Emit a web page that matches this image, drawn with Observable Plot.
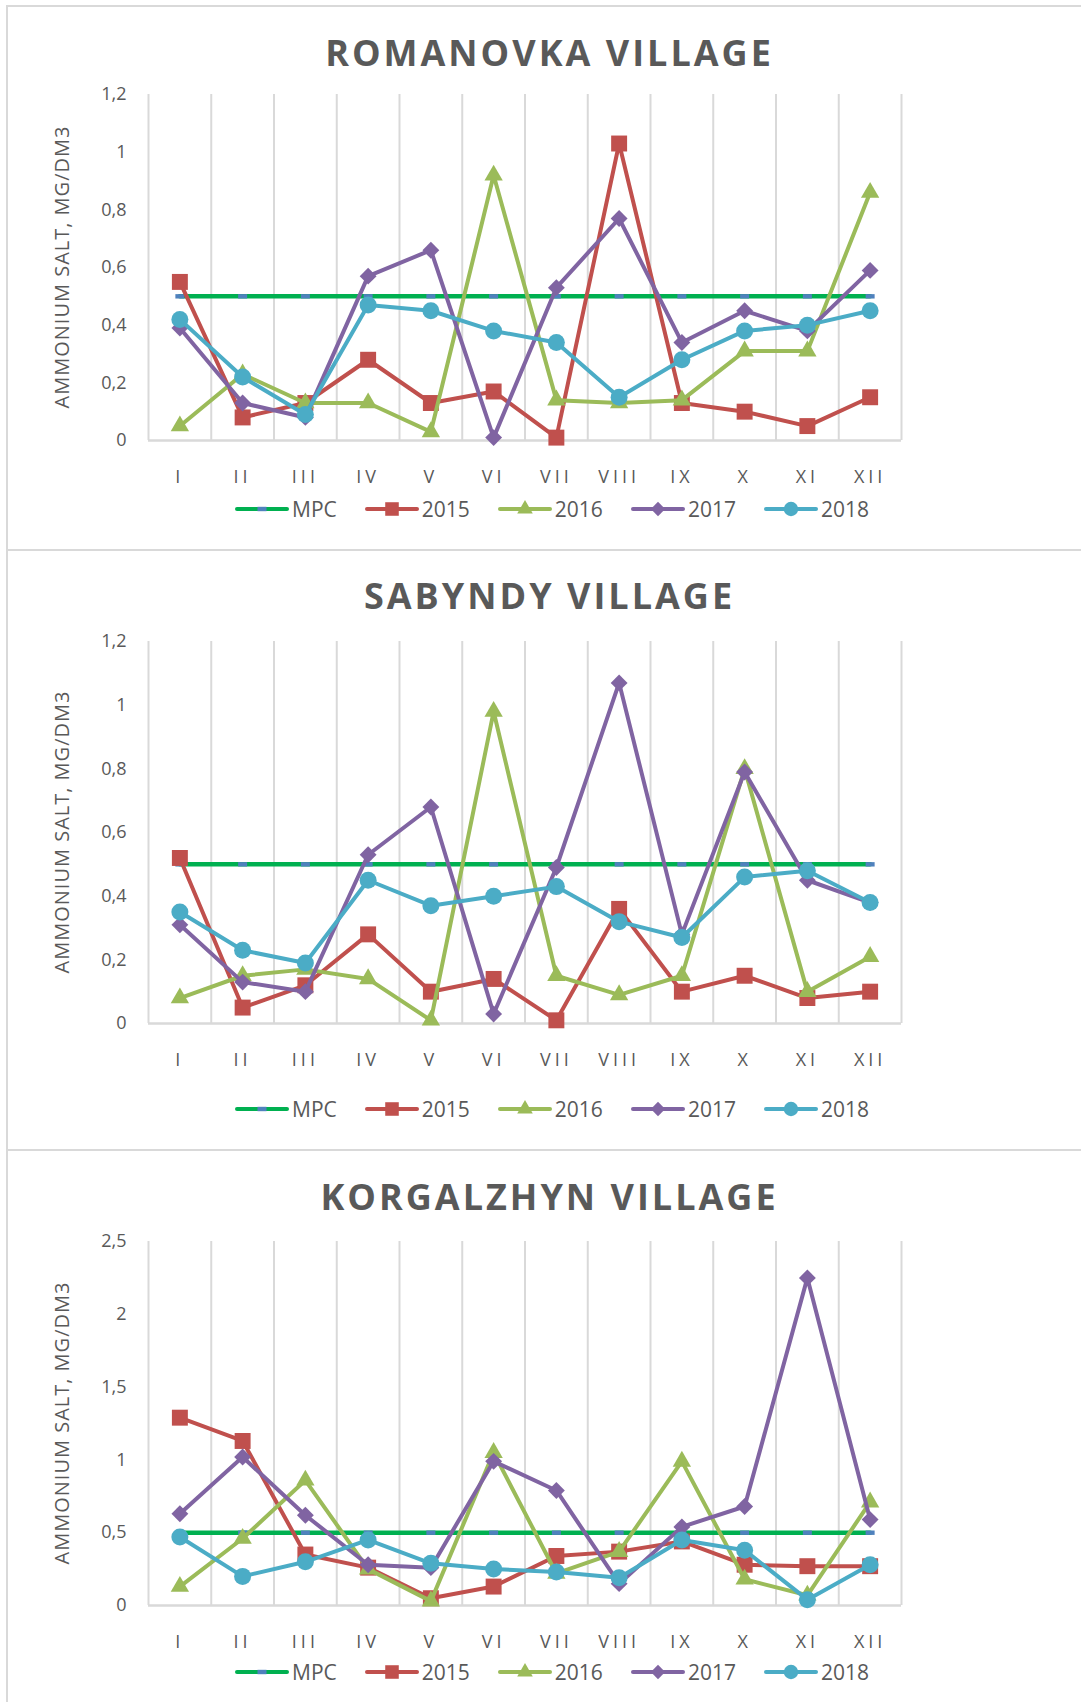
<!DOCTYPE html>
<html><head><meta charset="utf-8">
<script src="https://cdn.jsdelivr.net/npm/d3@7"></script>
<script src="https://cdn.jsdelivr.net/npm/@observablehq/plot@0.6"></script>
<style>
body{margin:0;background:#fff;}
#page{position:relative;width:1081px;height:1702px;overflow:hidden;background:#fff;font-family:'Open Sans',sans-serif;color:#595959}
.box{position:absolute;left:6px;width:1100px;border:2px solid #d9d9d9;box-sizing:border-box}
.title{position:absolute;left:0;width:1096px;text-align:center;font-weight:700;font-size:36px;letter-spacing:3px;padding-left:3px;box-sizing:border-box;line-height:40px;height:40px;white-space:nowrap;color:#595959}
.ylab{position:absolute;left:62px;white-space:nowrap;font-size:20px;letter-spacing:1px;line-height:24px;transform:translate(-50%,-50%) rotate(-90deg);color:#595959}
.legend{position:absolute;left:0;width:1104px;display:flex;justify-content:center;align-items:center;gap:28px;height:26px;font-size:21px;line-height:26px;color:#595959}
.legend .item{display:flex;align-items:center;gap:3px}
.plot{position:absolute;left:0}
.plot svg g[aria-label^="x-axis"] text{letter-spacing:4px}
</style></head>
<body><div id="page"></div>
<script>
// ---- categories & ticks ----
const months = ["I","II","III","IV","V","VI","VII","VIII","IX","X","XI","XII"];
const monthIndex = [1,2,3,4,5,6,7,8,9,10,11,12];
const ticksSmall = [0,0.2,0.4,0.6,0.8,1,1.2];
const ticksLarge = [0,0.5,1,1.5,2,2.5];
const seriesNames = ["MPC","2015","2016","2017","2018"];
const mpc = [0.5,0.5,0.5,0.5,0.5,0.5,0.5,0.5,0.5,0.5,0.5,0.5];

// ---- Romanovka ----
const romanovka2015 = [0.55,0.08,0.13,0.28,0.13,0.17,0.01,1.03,0.13,0.10,0.05,0.15];
const romanovka2016 = [0.05,0.23,0.13,0.13,0.03,0.92,0.14,0.13,0.14,0.31,0.31,0.86];
const romanovka2017 = [0.39,0.13,0.08,0.57,0.66,0.01,0.53,0.77,0.34,0.45,0.38,0.59];
const romanovka2018 = [0.42,0.22,0.09,0.47,0.45,0.38,0.34,0.15,0.28,0.38,0.40,0.45];

// ---- Sabyndy ----
const sabyndy2015 = [0.52,0.05,0.12,0.28,0.10,0.14,0.01,0.36,0.10,0.15,0.08,0.10];
const sabyndy2016 = [0.08,0.15,0.17,0.14,0.01,0.98,0.15,0.09,0.15,0.80,0.10,0.21];
const sabyndy2017 = [0.31,0.13,0.10,0.53,0.68,0.03,0.49,1.07,0.28,0.79,0.45,0.38];
const sabyndy2018 = [0.35,0.23,0.19,0.45,0.37,0.40,0.43,0.32,0.27,0.46,0.48,0.38];

// ---- Korgalzhyn ----
const korgalzhyn2015 = [1.29,1.13,0.35,0.26,0.05,0.13,0.34,0.37,0.44,0.28,0.27,0.27];
const korgalzhyn2016 = [0.13,0.46,0.86,0.25,0.03,1.05,0.22,0.37,0.99,0.18,0.07,0.71];
const korgalzhyn2017 = [0.63,1.02,0.62,0.28,0.26,0.99,0.79,0.15,0.54,0.68,2.25,0.59];
const korgalzhyn2018 = [0.47,0.20,0.30,0.45,0.29,0.25,0.23,0.19,0.45,0.38,0.04,0.28];

// ---- styles ----
const mpcStyle = {color:"#00b050", marker:"#4f81bd"};
const yearStyles = [
  {color:"#c0504d", symbol:"square", d3s:d3.symbolSquare, r:9},
  {color:"#9bbb59", symbol:"triangle", d3s:d3.symbolTriangle, r:6.8},
  {color:"#8064a2", symbol:"diamond2", d3s:d3.symbolDiamond2, r:7.6},
  {color:"#4bacc6", symbol:"circle", d3s:d3.symbolCircle, r:8.5}
];
const mpcSymbol = {draw(ctx){ ctx.moveTo(-4.5,-2.2); ctx.lineTo(4.5,-2.2); ctx.lineTo(4.5,2.2); ctx.lineTo(-4.5,2.2); ctx.closePath(); }};

const panels = [
  {title:"ROMANOVKA VILLAGE", boxTop:5, boxH:546, svgTop:5, frameTop:94, frameBottom:440, titleY:53, legendY:509, yMax:1.2, yTicks:ticksSmall,
   series:[romanovka2015,romanovka2016,romanovka2017,romanovka2018]},
  {title:"SABYNDY VILLAGE", boxTop:549, boxH:602, svgTop:549, frameTop:641, frameBottom:1023, titleY:596, legendY:1109, yMax:1.2, yTicks:ticksSmall,
   series:[sabyndy2015,sabyndy2016,sabyndy2017,sabyndy2018]},
  {title:"KORGALZHYN VILLAGE", boxTop:1149, boxH:600, svgTop:1149, frameTop:1241, frameBottom:1605, titleY:1197, legendY:1672, yMax:2.5, yTicks:ticksLarge,
   series:[korgalzhyn2015,korgalzhyn2016,korgalzhyn2017,korgalzhyn2018]}
];

const page = document.getElementById("page");
const fmt = d => String(d).replace(".", ",");
const gridBounds = monthIndex.map(i => i - 0.5).concat([monthIndex.length + 0.5]);

function legendSwatch(i) {
  const svg = d3.create("svg").attr("width",54).attr("height",20);
  if (i === 0) {
    svg.append("line").attr("x1",2).attr("x2",52).attr("y1",10).attr("y2",10).attr("stroke",mpcStyle.color).attr("stroke-width",4).attr("stroke-linecap","round");
    svg.append("rect").attr("x",22.5).attr("y",7.8).attr("width",9).attr("height",4.4).attr("fill",mpcStyle.marker);
  } else {
    const s = yearStyles[i-1];
    svg.append("line").attr("x1",2).attr("x2",52).attr("y1",10).attr("y2",10).attr("stroke",s.color).attr("stroke-width",4).attr("stroke-linecap","round");
    svg.append("path").attr("transform","translate(27,10)").attr("fill",s.color)
      .attr("d", d3.symbol(s.d3s, Math.PI*(s.r*0.85)*(s.r*0.85))());
  }
  return svg.node();
}

for (const p of panels) {
  const box = document.createElement("div");
  box.className = "box"; box.style.top = p.boxTop+"px"; box.style.height = p.boxH+"px";
  page.appendChild(box);

  const t = document.createElement("div");
  t.className = "title"; t.textContent = p.title; t.style.top = (p.titleY-20)+"px";
  page.appendChild(t);

  const yl = document.createElement("div");
  yl.className = "ylab"; yl.textContent = "AMMONIUM SALT, MG/DM3";
  yl.style.top = ((p.frameTop+p.frameBottom)/2)+"px";
  page.appendChild(yl);

  const mpcData = monthIndex.map((m,i) => ({x:m, v:mpc[i]}));
  const marks = [
    Plot.ruleX(gridBounds, {stroke:"#d9d9d9", strokeWidth:2}),
    Plot.ruleY([0], {stroke:"#d9d9d9", strokeWidth:2.5}),
    Plot.line(mpcData, {x:"x", y:"v", stroke:mpcStyle.color, strokeWidth:4.5}),
    Plot.dot(mpcData, {x:"x", y:"v", symbol:mpcSymbol, fill:mpcStyle.marker, r:3})
  ];
  p.series.forEach((arr, k) => {
    const s = yearStyles[k];
    const data = monthIndex.map((m,i) => ({x:m, v:arr[i]}));
    marks.push(Plot.line(data, {x:"x", y:"v", stroke:s.color, strokeWidth:4, strokeLinejoin:"round", strokeLinecap:"round"}));
    marks.push(Plot.dot(data, {x:"x", y:"v", symbol:s.symbol, fill:s.color, stroke:"none", r:s.r}));
  });

  const marginTop = p.frameTop - p.svgTop;
  const height = p.frameBottom - p.svgTop + 50;
  const chart = Plot.plot({
    width:1081, height, marginLeft:148, marginRight:180, marginTop, marginBottom:50,
    style:{fontFamily:"'Open Sans', sans-serif", fontSize:"18px", color:"#595959", background:"transparent", overflow:"visible"},
    x:{type:"linear", domain:[0.5, 12.5], ticks:monthIndex, tickFormat:i => months[i-1], tickSize:0, tickPadding:30, label:null},
    y:{domain:[0, p.yMax], ticks:p.yTicks, tickFormat:fmt, tickSize:0, tickPadding:22, label:null},
    marks
  });
  const wrap = document.createElement("div");
  wrap.className = "plot"; wrap.style.top = p.svgTop+"px";
  wrap.appendChild(chart);
  page.appendChild(wrap);

  const lg = document.createElement("div");
  lg.className = "legend"; lg.style.top = (p.legendY-13)+"px";
  seriesNames.forEach((name,i) => {
    const it = document.createElement("div"); it.className = "item";
    it.appendChild(legendSwatch(i));
    const sp = document.createElement("span"); sp.textContent = name; it.appendChild(sp);
    lg.appendChild(it);
  });
  page.appendChild(lg);
}
</script></body></html>
